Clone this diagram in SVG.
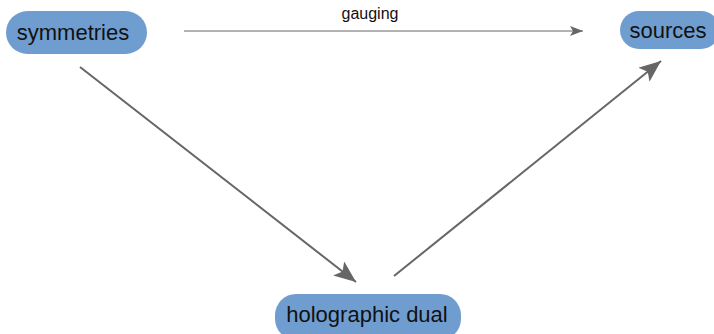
<svg xmlns="http://www.w3.org/2000/svg" width="714" height="334" viewBox="0 0 714 334">
<style>
.node{fill:#709dd0;}
.lbl{font-family:"Liberation Sans",Arial,sans-serif;font-size:22px;fill:#111;text-anchor:middle;}
.edge{stroke:#666;fill:none;}
.elbl{font-family:"Liberation Sans",Arial,sans-serif;font-size:16px;fill:#111;text-anchor:middle;}
</style>
<defs>
<marker id="ah" viewBox="0 0 13 10" refX="13" refY="5" markerWidth="13" markerHeight="10" markerUnits="userSpaceOnUse" orient="auto">
<path d="M0,0 L13,5 L0,10 L3,5 z" fill="#666"/>
</marker>
<marker id="ah2" viewBox="0 0 22 18" refX="22" refY="9" markerWidth="22" markerHeight="18" markerUnits="userSpaceOnUse" orient="auto">
<path d="M0,0 L22,9 L0,18 L5,9 z" fill="#666"/>
</marker>
</defs>
<g id="connectors">
<line class="edge" x1="184" y1="31" x2="583" y2="31" stroke-width="1" marker-end="url(#ah)"/>
<text class="elbl" x="370" y="19">gauging</text>
<line class="edge" x1="80" y1="67" x2="356" y2="282" stroke-width="2" marker-end="url(#ah2)"/>
<line class="edge" x1="394" y1="276" x2="661" y2="61" stroke-width="2" marker-end="url(#ah2)"/>
</g>
<g id="symmetries">
<rect class="node" x="6" y="11" width="141" height="43" rx="21.5"/>
<text class="lbl" x="73" y="40">symmetries</text>
</g>
<g id="sources">
<rect class="node" x="620" y="11" width="100" height="38" rx="19"/>
<text class="lbl" x="668" y="38">sources</text>
</g>
<g id="holographic-dual">
<rect class="node" x="275" y="294" width="186" height="46" rx="21"/>
<text class="lbl" x="367" y="322">holographic dual</text>
</g>
</svg>
